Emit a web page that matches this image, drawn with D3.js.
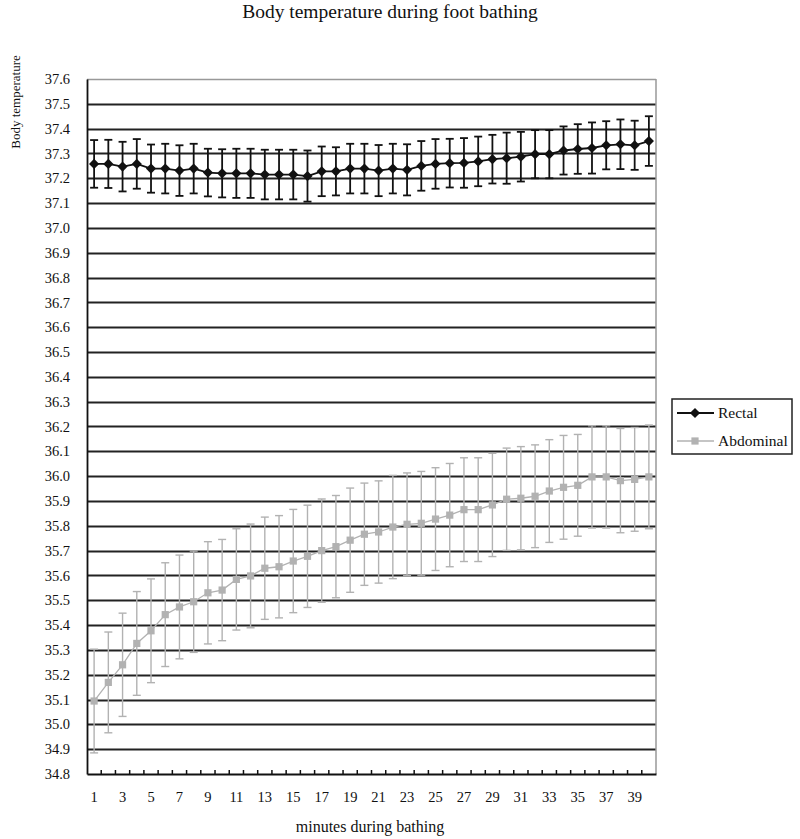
<!DOCTYPE html>
<html>
<head>
<meta charset="utf-8">
<script src="https://cdn.jsdelivr.net/npm/d3@7"></script>
<style>
  body { margin: 0; background: #fff; }
  text { font-family: "Liberation Serif", "DejaVu Serif", serif; fill: #111; }
</style>
</head>
<body>
<div id="chart"></div>
<script>
// minutes during bathing
var minutes = d3.range(1, 41);

var rectalMean = [37.258, 37.258, 37.247, 37.258, 37.239, 37.239, 37.231, 37.239, 37.223, 37.220,
                  37.220, 37.220, 37.215, 37.215, 37.215, 37.209, 37.228, 37.228, 37.239, 37.239,
                  37.231, 37.239, 37.234, 37.250, 37.258, 37.261, 37.262, 37.268, 37.277, 37.281,
                  37.287, 37.297, 37.297, 37.312, 37.318, 37.322, 37.333, 37.337, 37.333, 37.350];
var rectalSD   = [0.096, 0.097, 0.100, 0.100, 0.097, 0.100, 0.102, 0.100, 0.096, 0.097,
                  0.099, 0.099, 0.100, 0.100, 0.100, 0.103, 0.100, 0.097, 0.100, 0.100,
                  0.103, 0.100, 0.103, 0.100, 0.100, 0.098, 0.100, 0.100, 0.098, 0.103,
                  0.100, 0.097, 0.097, 0.097, 0.100, 0.103, 0.097, 0.100, 0.099, 0.100];

var abdMean = [35.094, 35.169, 35.240, 35.326, 35.377, 35.442, 35.473, 35.494, 35.530, 35.541,
               35.584, 35.598, 35.629, 35.635, 35.658, 35.677, 35.700, 35.716, 35.742, 35.766,
               35.775, 35.795, 35.806, 35.810, 35.827, 35.843, 35.865, 35.865, 35.884, 35.907,
               35.911, 35.919, 35.940, 35.955, 35.963, 35.997, 35.997, 35.982, 35.987, 35.997];
var abdSD   = [0.209, 0.203, 0.208, 0.209, 0.209, 0.209, 0.209, 0.204, 0.206, 0.204,
               0.204, 0.209, 0.206, 0.206, 0.208, 0.206, 0.208, 0.206, 0.210, 0.206,
               0.206, 0.208, 0.207, 0.209, 0.207, 0.208, 0.209, 0.209, 0.208, 0.206,
               0.208, 0.207, 0.207, 0.209, 0.205, 0.206, 0.206, 0.210, 0.209, 0.209];

var yTicks = d3.range(348, 377).map(function(d) { return d / 10; });

var margin = {top: 79, right: 144, bottom: 65, left: 87};
var width = 800 - margin.left - margin.right;
var height = 839 - margin.top - margin.bottom;

var svg = d3.select("#chart")
  .append("svg")
  .attr("width", 800)
  .attr("height", 839);

var x = d3.scaleBand()
  .domain(minutes)
  .range([0, width]);

var y = d3.scaleLinear()
  .domain([34.8, 37.6])
  .range([height, 0]);

var g = svg.append("g")
  .attr("transform", "translate(" + margin.left + "," + margin.top + ")");

// gridlines
g.selectAll(".grid")
  .data(yTicks.slice(1))
  .enter()
  .append("line")
  .attr("x1", 0)
  .attr("x2", width)
  .attr("y1", function(d) { return Math.round(y(d)) + 0.5; })
  .attr("y2", function(d) { return Math.round(y(d)) + 0.5; })
  .attr("stroke", function(d) { return d === 37.6 ? "#999" : "#222"; })
  .attr("stroke-width", function(d) { return d === 37.6 ? 1.5 : 1.8; });

// right frame
g.append("line")
  .attr("x1", width).attr("x2", width)
  .attr("y1", 0).attr("y2", height)
  .attr("stroke", "#999")
  .attr("stroke-width", 1.5);

// y axis
var yAxis = g.append("g")
  .call(d3.axisLeft(y).tickValues(yTicks).tickSize(0).tickPadding(17)
    .tickFormat(d3.format(".1f")));
yAxis.select(".domain").attr("stroke", "#111").attr("stroke-width", 1.8);
yAxis.selectAll("text").style("font-size", "14.5px")
  .style("font-family", "'Liberation Serif', serif");

// x axis with inner ticks at band edges
var xAxis = g.append("g")
  .attr("transform", "translate(0," + height + ")")
  .call(d3.axisBottom(x).tickSize(0).tickPadding(18)
    .tickFormat(function(d) { return d % 2 === 1 ? d : ""; }));
xAxis.select(".domain").attr("stroke", "#111").attr("stroke-width", 1.8);
xAxis.selectAll("text").style("font-size", "14.5px")
  .style("font-family", "'Liberation Serif', serif");

g.selectAll(".xtick")
  .data(minutes.slice(1))
  .enter()
  .append("line")
  .attr("x1", function(d) { return x(d); })
  .attr("x2", function(d) { return x(d); })
  .attr("y1", height)
  .attr("y2", height - 4)
  .attr("stroke", "#111")
  .attr("stroke-width", 1.5);

var cx = function(d, i) { return x(minutes[i]) + x.bandwidth() / 2; };

function drawSeries(mean, sd, color, lineW, barW, marker) {
  var s = g.append("g");
  // error bars
  var eb = s.selectAll(".eb")
    .data(mean)
    .enter()
    .append("g");
  eb.append("line")
    .attr("x1", cx).attr("x2", cx)
    .attr("y1", function(d, i) { return y(d + sd[i]); })
    .attr("y2", function(d, i) { return y(d - sd[i]); })
    .attr("stroke", color).attr("stroke-width", barW);
  eb.append("line")
    .attr("x1", function(d, i) { return cx(d, i) - 4; })
    .attr("x2", function(d, i) { return cx(d, i) + 4; })
    .attr("y1", function(d, i) { return y(d + sd[i]); })
    .attr("y2", function(d, i) { return y(d + sd[i]); })
    .attr("stroke", color).attr("stroke-width", barW);
  eb.append("line")
    .attr("x1", function(d, i) { return cx(d, i) - 4; })
    .attr("x2", function(d, i) { return cx(d, i) + 4; })
    .attr("y1", function(d, i) { return y(d - sd[i]); })
    .attr("y2", function(d, i) { return y(d - sd[i]); })
    .attr("stroke", color).attr("stroke-width", barW);

  var line = d3.line()
    .x(function(d, i) { return cx(d, i); })
    .y(function(d) { return y(d); });
  s.append("path")
    .datum(mean)
    .attr("d", line)
    .attr("fill", "none")
    .attr("stroke", color)
    .attr("stroke-width", lineW);

  s.selectAll(".pt")
    .data(mean)
    .enter()
    .append("path")
    .attr("transform", function(d, i) { return "translate(" + cx(d, i) + "," + y(d) + ")"; })
    .attr("d", marker)
    .attr("fill", color);
}

var diamond = d3.symbol().type(d3.symbolDiamond2).size(66)();
var square = d3.symbol().type(d3.symbolSquare).size(52)();

drawSeries(abdMean, abdSD, "#b2b2b2", 1.3, 1.4, square);
drawSeries(rectalMean, rectalSD, "#111", 1.8, 1.8, diamond);

// legend
var legend = svg.append("g").attr("transform", "translate(672,399)");
legend.append("rect")
  .attr("width", 120).attr("height", 55)
  .attr("fill", "#fff").attr("stroke", "#222").attr("stroke-width", 1.5);

var legendItems = [
  {name: "Rectal", color: "#111", marker: diamond, w: 1.8},
  {name: "Abdominal", color: "#b2b2b2", marker: square, w: 1.3}
];
var li = legend.selectAll(".item")
  .data(legendItems)
  .enter()
  .append("g")
  .attr("transform", function(d, i) { return "translate(0," + (14 + i * 28) + ")"; });
li.append("line")
  .attr("x1", 5).attr("x2", 42)
  .attr("stroke", function(d) { return d.color; })
  .attr("stroke-width", function(d) { return d.w; });
li.append("path")
  .attr("transform", "translate(23,0)")
  .attr("d", function(d) { return d.marker; })
  .attr("fill", function(d) { return d.color; });
li.append("text")
  .attr("x", 46)
  .attr("dy", "0.35em")
  .style("font-size", "15.5px")
  .text(function(d) { return d.name; });

// titles
svg.append("text")
  .attr("x", 390)
  .attr("y", 18)
  .attr("text-anchor", "middle")
  .style("font-size", "19.5px")
  .text("Body temperature during foot bathing");

svg.append("text")
  .attr("transform", "translate(20,102) rotate(-90)")
  .attr("text-anchor", "middle")
  .style("font-size", "13px")
  .text("Body temperature");

svg.append("text")
  .attr("x", 370)
  .attr("y", 832)
  .attr("text-anchor", "middle")
  .style("font-size", "16px")
  .text("minutes during bathing");
</script>
</body>
</html>
